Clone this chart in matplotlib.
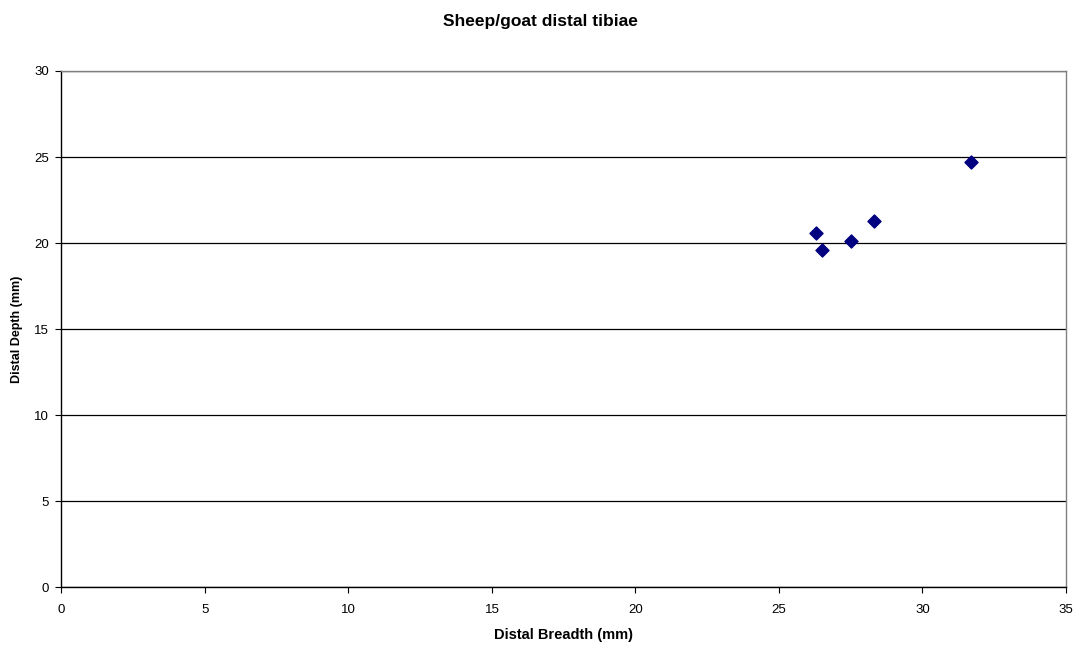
import numpy as np
import matplotlib
matplotlib.use("Agg")
import matplotlib.pyplot as plt

plt.rcParams["font.family"] = ["Liberation Sans", "DejaVu Sans"]

# distal breadth (Bd) vs distal depth (Dd), mm
breadth = [26.3, 26.5, 27.5, 28.3, 31.7]
depth = [20.6, 19.6, 20.1, 21.3, 24.7]

x_ticks = [0, 5, 10, 15, 20, 25, 30, 35]
y_ticks = [0, 5, 10, 15, 20, 25, 30]

fig = plt.figure(figsize=(10.8, 6.46), dpi=100)
ax = fig.add_axes([0.0568, 0.0909, 0.9302, 0.7992])

ax.scatter(breadth, depth, marker="D", s=44, color="#000080", zorder=3)

ax.set_xlim(0, 35)
ax.set_ylim(0, 30)
ax.set_xticks(x_ticks)
ax.set_yticks(y_ticks)
ax.yaxis.grid(True, color="black", linewidth=0.9)
ax.set_axisbelow(True)

ax.spines["top"].set_color("#808080")
ax.spines["right"].set_color("#808080")
ax.spines["left"].set_color("black")
ax.spines["bottom"].set_color("black")
for s in ax.spines.values():
    s.set_linewidth(1)

ax.tick_params(direction="out", length=4, width=0.8, labelsize=9.5)
ax.tick_params(axis="x", pad=8)
ax.tick_params(axis="y", pad=5)

ax.set_xlabel("Distal Breadth (mm)", fontsize=10.5, fontweight="bold", labelpad=9)
ax.set_ylabel("Distal Depth (mm)", fontsize=9, fontweight="bold", labelpad=8)
fig.suptitle("Sheep/goat distal tibiae", fontsize=12.5, fontweight="bold", y=0.978)

fig.savefig("out.png", dpi=100)
